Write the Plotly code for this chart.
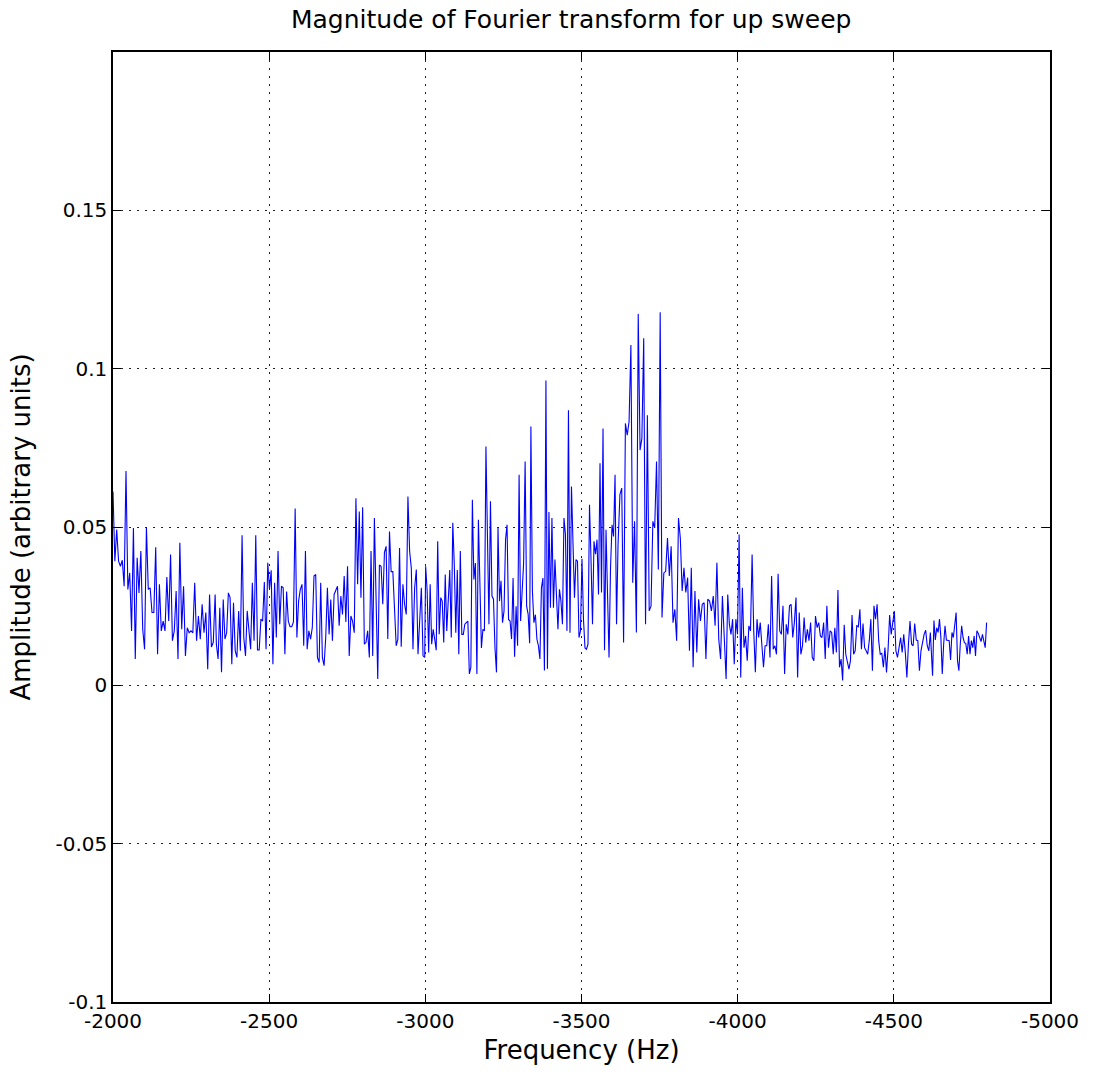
import numpy as np
import plotly.graph_objects as go

# ---- data: amplitude, in consecutive frequency segments ----
seg_bounds_hz = [(-2000, -2327), (-2331, -2660), (-2665, -2998), (-3001, -3334),
                 (-3338, -3617), (-3623, -3957), (-3963, -4296), (-4301, -4617),
                 (-4624, -4797)]

amp_seg1 = [0.0612, 0.0392, 0.0492, 0.0392, 0.0376, 0.0395, 0.0313, 0.0677, 0.0303, 0.0355,
            0.0172, 0.0497, 0.0083, 0.0403, 0.0292, 0.0424, 0.0177, 0.0114, 0.0499, 0.0303,
            0.0308, 0.0230, 0.0230, 0.0436, 0.0098, 0.0319, 0.0172, 0.0203, 0.0172, 0.0342,
            0.0203, 0.0413, 0.0141, 0.0172, 0.0298, 0.0083, 0.0450, 0.0177, 0.0313, 0.0093,
            0.0182, 0.0166, 0.0172, 0.0166, 0.0324, 0.0141, 0.0219, 0.0146, 0.0256, 0.0166,
            0.0230, 0.0051, 0.0287, 0.0121, 0.0136, 0.0287]
amp_seg2 = [0.0130, 0.0083, 0.0245, 0.0041, 0.0271, 0.0146, 0.0166, 0.0292, 0.0277, 0.0067,
            0.0261, 0.0109, 0.0088, 0.0235, 0.0109, 0.0474, 0.0151, 0.0093, 0.0235, 0.0177,
            0.0114, 0.0324, 0.0141, 0.0474, 0.0112, 0.0112, 0.0209, 0.0203, 0.0326, 0.0114,
            0.0387, 0.0303, 0.0363, 0.0067, 0.0324, 0.0151, 0.0424, 0.0193, 0.0313, 0.0308,
            0.0098, 0.0296, 0.0203, 0.0185, 0.0185, 0.0200, 0.0558, 0.0151, 0.0266, 0.0303,
            0.0319, 0.0125, 0.0424, 0.0114, 0.0172, 0.0146, 0.0182, 0.0345, 0.0350, 0.0088,
            0.0072]
amp_seg3 = [0.0324, 0.0088, 0.0062, 0.0151, 0.0308, 0.0161, 0.0271, 0.0141, 0.0287, 0.0298,
            0.0313, 0.0188, 0.0282, 0.0224, 0.0345, 0.0200, 0.0376, 0.0093, 0.0219, 0.0203,
            0.0166, 0.0591, 0.0319, 0.0549, 0.0277, 0.0562, 0.0130, 0.0136, 0.0172, 0.0088,
            0.0424, 0.0093, 0.0528, 0.0277, 0.0020, 0.0380, 0.0376, 0.0256, 0.0420, 0.0439,
            0.0146, 0.0486, 0.0359, 0.0359, 0.0224, 0.0125, 0.0146, 0.0434, 0.0122, 0.0319,
            0.0256, 0.0224, 0.0596, 0.0424, 0.0371, 0.0114, 0.0308, 0.0366, 0.0098, 0.0200,
            0.0308, 0.0093, 0.0088]
amp_seg4 = [0.0376, 0.0298, 0.0104, 0.0319, 0.0130, 0.0177, 0.0146, 0.0111, 0.0455, 0.0161,
            0.0277, 0.0266, 0.0135, 0.0350, 0.0172, 0.0298, 0.0364, 0.0151, 0.0513, 0.0381,
            0.0166, 0.0364, 0.0098, 0.0424, 0.0161, 0.0161, 0.0193, 0.0198, 0.0203, 0.0036,
            0.0057, 0.0586, 0.0334, 0.0386, 0.0036, 0.0523, 0.0266, 0.0118, 0.0177, 0.0172,
            0.0754, 0.0465, 0.0193, 0.0581, 0.0282, 0.0272, 0.0118, 0.0041, 0.0497, 0.0266,
            0.0330, 0.0198, 0.0235, 0.0460, 0.0507, 0.0208, 0.0203, 0.0146, 0.0339, 0.0090,
            0.0250, 0.0125, 0.0665, 0.0203, 0.0319, 0.0386, 0.0707, 0.0250, 0.0224, 0.0133]
amp_seg5 = [0.0817, 0.0298, 0.0198, 0.0223, 0.0146, 0.0125, 0.0083, 0.0308, 0.0339, 0.0047,
            0.0963, 0.0052, 0.0547, 0.0245, 0.0528, 0.0245, 0.0397, 0.0298, 0.0177, 0.0303,
            0.0266, 0.0193, 0.0528, 0.0476, 0.0172, 0.0869, 0.0166, 0.0628, 0.0465, 0.0277,
            0.0397, 0.0392, 0.0151, 0.0172, 0.0400, 0.0208, 0.0118, 0.0114, 0.0130, 0.0570,
            0.0400, 0.0193, 0.0455, 0.0414, 0.0460, 0.0287, 0.0701, 0.0293, 0.0811, 0.0111,
            0.0491, 0.0235, 0.0088, 0.0372, 0.0507, 0.0470, 0.0665, 0.0193, 0.0445]
amp_seg6 = [0.0602, 0.0623, 0.0135, 0.0827, 0.0790, 0.0833, 0.1075, 0.0324, 0.0518, 0.0167,
            0.1173, 0.0743, 0.0780, 0.1096, 0.0193, 0.0853, 0.0235, 0.0250, 0.0518, 0.0497,
            0.0707, 0.0366, 0.1178, 0.0214, 0.0355, 0.0360, 0.0465, 0.0345, 0.0439, 0.0198,
            0.0240, 0.0141, 0.0528, 0.0465, 0.0298, 0.0371, 0.0293, 0.0340, 0.0109, 0.0371,
            0.0057, 0.0298, 0.0104, 0.0272, 0.0203, 0.0256, 0.0261, 0.0083, 0.0272, 0.0266,
            0.0235, 0.0282, 0.0188, 0.0387, 0.0146, 0.0083, 0.0282, 0.0172]
amp_seg7 = [0.0020, 0.0287, 0.0193, 0.0161, 0.0209, 0.0067, 0.0209, 0.0161, 0.0476, 0.0025,
            0.0308, 0.0119, 0.0156, 0.0078, 0.0188, 0.0172, 0.0413, 0.0172, 0.0041, 0.0209,
            0.0151, 0.0198, 0.0130, 0.0057, 0.0125, 0.0125, 0.0193, 0.0088, 0.0345, 0.0114,
            0.0125, 0.0098, 0.0352, 0.0172, 0.0161, 0.0251, 0.0036, 0.0193, 0.0161, 0.0251,
            0.0256, 0.0151, 0.0198, 0.0277, 0.0025, 0.0230, 0.0098, 0.0125, 0.0214, 0.0135,
            0.0177, 0.0141, 0.0198, 0.0088, 0.0078, 0.0219, 0.0182, 0.0198, 0.0156, 0.0151,
            0.0198, 0.0083, 0.0251, 0.0119, 0.0172]
amp_seg8 = [0.0167, 0.0098, 0.0182, 0.0104, 0.0301, 0.0057, 0.0083, 0.0015, 0.0191, 0.0098,
            0.0067, 0.0051, 0.0078, 0.0222, 0.0098, 0.0109, 0.0188, 0.0185, 0.0240, 0.0114,
            0.0195, 0.0119, 0.0109, 0.0098, 0.0141, 0.0209, 0.0046, 0.0251, 0.0209, 0.0256,
            0.0141, 0.0098, 0.0101, 0.0057, 0.0119, 0.0041, 0.0114, 0.0222, 0.0161, 0.0203,
            0.0235, 0.0109, 0.0088, 0.0119, 0.0151, 0.0104, 0.0161, 0.0104, 0.0025, 0.0130,
            0.0203, 0.0130, 0.0125, 0.0195, 0.0143, 0.0141, 0.0046, 0.0109, 0.0141, 0.0161,
            0.0174, 0.0125, 0.0109, 0.0167]
amp_seg9 = [0.0030, 0.0205, 0.0143, 0.0182, 0.0167, 0.0209, 0.0151, 0.0036, 0.0130, 0.0188,
            0.0143, 0.0143, 0.0141, 0.0080, 0.0167, 0.0151, 0.0198, 0.0230, 0.0078, 0.0046,
            0.0130, 0.0188, 0.0151, 0.0135, 0.0132, 0.0098, 0.0156, 0.0098, 0.0141, 0.0119,
            0.0156, 0.0093, 0.0172, 0.0164, 0.0151, 0.0138, 0.0161, 0.0141, 0.0119, 0.0198]

amp_segments = [amp_seg1, amp_seg2, amp_seg3, amp_seg4, amp_seg5,
                amp_seg6, amp_seg7, amp_seg8, amp_seg9]

x_tick_vals = [-2000, -2500, -3000, -3500, -4000, -4500, -5000]
x_tick_text = ["-2000", "-2500", "-3000", "-3500", "-4000", "-4500", "-5000"]
y_tick_vals = [-0.1, -0.05, 0, 0.05, 0.1, 0.15, 0.2]
y_tick_text = ["-0.1", "-0.05", "0", "0.05", "0.1", "0.15", ""]

# ---- build x/y from segments ----
freq = np.concatenate([np.linspace(a, b, len(s)) for (a, b), s in zip(seg_bounds_hz, amp_segments)])
amp = np.concatenate([np.asarray(s) for s in amp_segments])

FONT = "DejaVu Sans, Verdana, sans-serif"

fig = go.Figure(go.Scatter(x=freq, y=amp, mode="lines",
                           line=dict(color="#0000ff", width=1.1),
                           showlegend=False, hoverinfo="x+y"))

axis_common = dict(
    showline=True, linecolor="black", linewidth=1.5, mirror="ticks",
    ticks="inside", ticklen=8, tickwidth=1, tickcolor="black",
    showgrid=True, gridcolor="#222222", gridwidth=1, griddash="2px,6px",
    zeroline=False, tickfont=dict(family=FONT, size=20, color="black"),
)

fig.update_layout(
    width=1093, height=1072,
    margin=dict(l=113, r=43, t=52, b=66),
    paper_bgcolor="white", plot_bgcolor="white",
    font=dict(family=FONT, color="black"),
    title=dict(text="Magnitude of Fourier transform for up sweep",
               font=dict(family=FONT, size=25, color="black"),
               x=0.489, xref="paper", xanchor="center",
               y=1 - 19 / 1072, yref="container", yanchor="middle"),
    xaxis=dict(range=[-2000, -5000], tickvals=x_tick_vals, ticktext=x_tick_text,
               title=dict(text="Frequency (Hz)", font=dict(family=FONT, size=26), standoff=9),
               **axis_common),
    yaxis=dict(range=[-0.1, 0.2], tickvals=y_tick_vals, ticktext=y_tick_text,
               title=dict(text="Amplitude (arbitrary units)", font=dict(family=FONT, size=26), standoff=17),
               **axis_common),
)

fig.write_html("out.html", config={"displayModeBar": False},
               post_script="document.body.style.margin='0';document.body.style.overflow='hidden';")
